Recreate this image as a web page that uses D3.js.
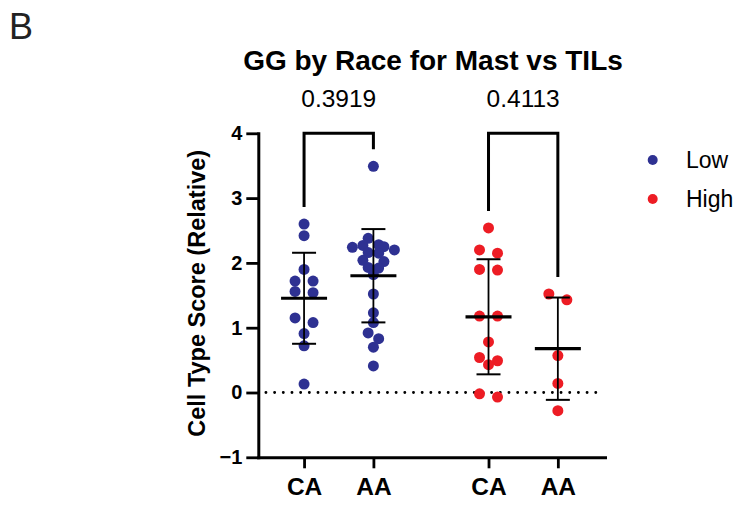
<!DOCTYPE html>
<html>
<head>
<meta charset="utf-8">
<script src="https://cdn.jsdelivr.net/npm/d3@7"></script>
<style>
  html, body { margin: 0; padding: 0; background: #fff; }
  svg { display: block; font-family: "Liberation Sans", Arial, Helvetica, sans-serif; }
</style>
</head>
<body>
<svg id="chart" width="736" height="508"></svg>
<script>
// ---------------- data ----------------
const races = ["CA", "AA"];
const groups = ["Low", "High"];
const lowCA  = [2.60, 2.42, 1.90, 1.72, 1.72, 1.56, 1.54, 1.15, 1.08, 0.91, 0.72, 0.13];
const lowAA  = [3.49, 2.38, 2.28, 2.27, 2.25, 2.24, 2.20, 2.16, 2.15, 2.04, 2.02, 1.93, 1.92, 1.82, 1.52, 1.23, 1.08, 0.92, 0.83, 0.70, 0.41];
const highCA = [2.54, 2.20, 2.15, 1.90, 1.89, 1.18, 1.18, 0.78, 0.54, 0.49, 0.43, -0.02, -0.07];
const highAA = [1.52, 1.43, 0.57, 0.14, -0.28];
const pValues = ["0.3919", "0.4113"];
const yTicks = [-1, 0, 1, 2, 3, 4];
const groupColors = ["#2E3192", "#ED1C24"];
const titleText = "GG by Race for Mast vs TILs";
const yTitle = "Cell Type Score (Relative)";

const columns = [
  { group: 0, race: 0, values: lowCA },
  { group: 0, race: 1, values: lowAA },
  { group: 1, race: 0, values: highCA },
  { group: 1, race: 1, values: highAA }
];

// ---------------- layout ----------------
const svg = d3.select("#chart");
const groupStep = 2.66;          // column units between groups
const colPos = c => c.group * groupStep + c.race;

const y = d3.scaleLinear().domain([-1, 4]).range([457.3, 133.3]);
const x = d3.scaleLinear().domain([-0.66, 4.34]).range([258.3, 605]);

const R = 5.5;

// simple GraphPad-like row swarm
function swarm(values, s0, W, T, Dmin) {
  const pts = values.map(v => ({ v, py: y(v) })).sort((a, b) => b.v - a.v);
  const rows = [];
  for (const p of pts) {
    const r = rows[rows.length - 1];
    if (r && p.py - r[0].py < T) r.push(p); else rows.push([p]);
  }
  let prevInt = null, prevLast = null;
  const rowSlots = rows.map(r => {
    const n = r.length;
    const forced = prevLast !== null && (r[0].py - prevLast) < Dmin;
    const integer = forced ? !prevInt : (n % 2 === 1);
    let slots = [];
    if (integer) {
      if (n % 2 === 1) slots.push(0);
      for (let k = 1; slots.length < n; k++) slots.push(-k, k);
    } else {
      for (let k = 0.5; slots.length < n; k++) slots.push(-k, k);
    }
    slots = slots.slice(0, n);
    prevInt = integer; prevLast = r[n - 1].py;
    return slots;
  });
  const maxSlot = d3.max(rowSlots.flat(), Math.abs) || 0;
  const s = maxSlot ? Math.min(s0, W / maxSlot) : s0;
  rows.forEach((r, i) => r.forEach((p, j) => { p.dx = rowSlots[i][j] * s; }));
  return pts;
}

// ---------------- titles ----------------
svg.append("text").attr("x", 9).attr("y", 39)
  .attr("font-size", 36).attr("fill", "#222").text("B");

svg.append("text").attr("x", 433).attr("y", 69.5)
  .attr("text-anchor", "middle").attr("font-size", 28).attr("font-weight", "bold")
  .attr("fill", "#000").text(titleText);

svg.append("text")
  .attr("transform", `translate(205,${(y(4) + y(-1)) / 2 - 2}) rotate(-90)`)
  .attr("text-anchor", "middle").attr("font-size", 23.5).attr("font-weight", "bold")
  .text(yTitle);

// ---------------- zero line ----------------
svg.append("line")
  .attr("x1", x(-0.55)).attr("x2", x(4.21))
  .attr("y1", y(0)).attr("y2", y(0))
  .attr("stroke", "#000").attr("stroke-width", 2.9)
  .attr("stroke-linecap", "round").attr("stroke-dasharray", "0.01 8.67");

// ---------------- points ----------------
columns.forEach(c => {
  const pts = swarm(c.values, 18, 21, 6.5, 9);
  svg.append("g").selectAll("circle").data(pts).join("circle")
    .attr("cx", d => x(colPos(c)) + d.dx)
    .attr("cy", d => y(d.v))
    .attr("r", R)
    .attr("fill", groupColors[c.group]);
});

// ---------------- mean & SD ----------------
columns.forEach(c => {
  const m = d3.mean(c.values), sd = d3.deviation(c.values);
  const cx = x(colPos(c));
  const g = svg.append("g").attr("stroke", "#000");
  g.append("line").attr("x1", cx).attr("x2", cx).attr("y1", y(m + sd)).attr("y2", y(m - sd)).attr("stroke-width", 1.8);
  [m + sd, m - sd].forEach(v => g.append("line")
    .attr("x1", cx - 12).attr("x2", cx + 12).attr("y1", y(v)).attr("y2", y(v)).attr("stroke-width", 2));
  g.append("line").attr("x1", cx - 23).attr("x2", cx + 23).attr("y1", y(m)).attr("y2", y(m)).attr("stroke-width", 3.2);
});

// ---------------- axes ----------------
const yAxis = d3.axisLeft(y).tickValues(yTicks).tickSize(12).tickSizeOuter(0).tickPadding(4).tickFormat(d3.format("d"));
const gy = svg.append("g").attr("transform", `translate(${x.range()[0]},0)`).call(yAxis);
gy.select(".domain").attr("stroke-width", 3).attr("stroke-linecap", "square");
gy.selectAll(".tick line").attr("stroke-width", 2.8);
gy.selectAll("text").attr("font-size", 20).attr("font-weight", "bold").attr("font-family", "Liberation Sans, Arial, sans-serif").attr("fill", "#000");

const xTickPos = columns.map(colPos);
const xAxis = d3.axisBottom(x).tickValues(xTickPos).tickSize(11).tickSizeOuter(0).tickPadding(9.5)
  .tickFormat((d, i) => races[columns[i].race]);
const gx = svg.append("g").attr("transform", `translate(0,${y.range()[0]})`).call(xAxis);
gx.select(".domain").attr("stroke-width", 3).attr("stroke-linecap", "square");
gx.selectAll(".tick line").attr("stroke-width", 2.8);
gx.selectAll("text").attr("font-size", 24.5).attr("font-weight", "bold").attr("font-family", "Liberation Sans, Arial, sans-serif").attr("fill", "#000");

// ---------------- significance brackets ----------------
groups.forEach((gname, gi) => {
  const cols = columns.filter(c => c.group === gi);
  const xa = x(colPos(cols[0])), xb = x(colPos(cols[1]));
  const top = y(4);
  const la = y(d3.max(cols[0].values)) - 17;
  const lb = y(d3.max(cols[1].values)) - 17;
  svg.append("path")
    .attr("d", `M${xa},${la}V${top}H${xb}V${lb}`)
    .attr("fill", "none").attr("stroke", "#000").attr("stroke-width", 3);
  svg.append("text").attr("x", (xa + xb) / 2).attr("y", 107)
    .attr("text-anchor", "middle").attr("font-size", 24.5).text(pValues[gi]);
});

// ---------------- legend ----------------
const lg = svg.append("g");
groups.forEach((gname, i) => {
  const ly = 160 + i * 39;
  lg.append("circle").attr("cx", 652.7).attr("cy", ly).attr("r", 5).attr("fill", groupColors[i]);
  lg.append("text").attr("x", 686).attr("y", ly + 7.5).attr("font-size", 23).text(gname);
});
</script>
</body>
</html>
